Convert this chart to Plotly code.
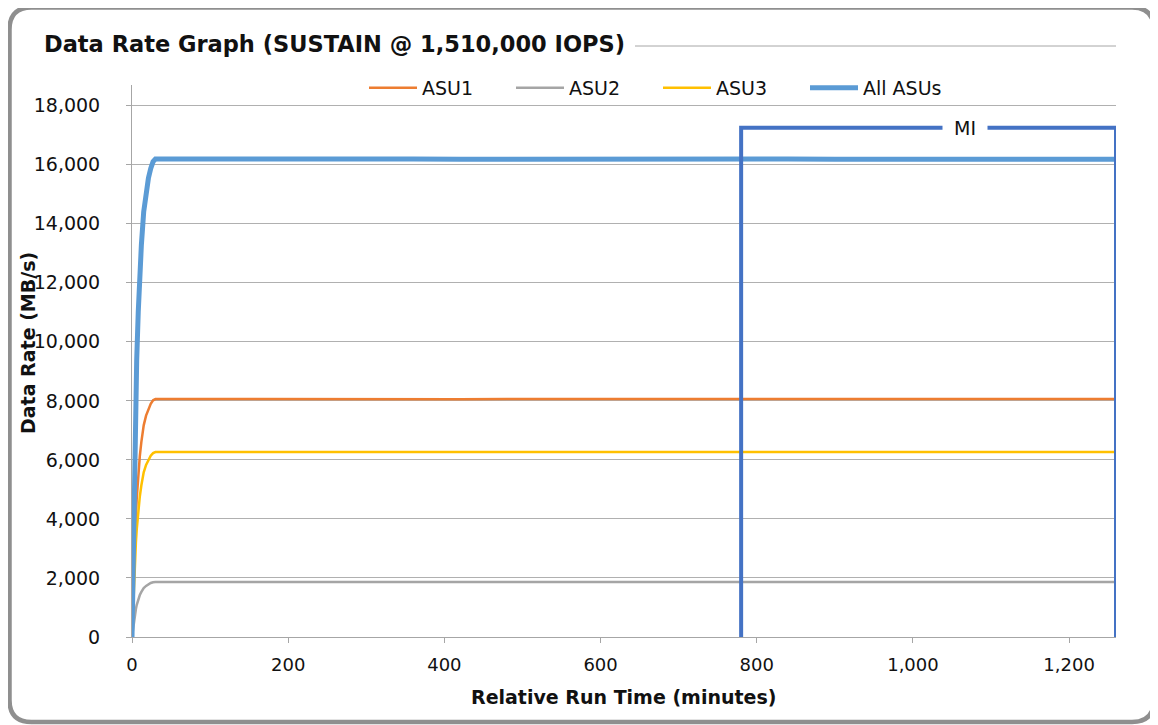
import plotly.graph_objects as go

# ---------------- data ----------------
minutes = [0, 1, 2, 3, 4, 5, 6, 8, 10, 12, 15, 18, 21, 24, 27, 30,
           60, 120, 180, 240, 300, 360, 420, 480, 540, 600, 660, 720,
           780, 840, 900, 960, 1020, 1080, 1140, 1200, 1260]

asu1 = [0, 970, 1930, 2740, 3470, 4110, 4670, 5480, 6130, 6610, 7170, 7500, 7740, 7900, 8020, 8060,
        8062, 8058, 8061, 8059, 8060, 8063, 8057, 8060, 8061, 8059, 8062, 8058, 8060, 8061, 8059,
        8060, 8062, 8058, 8061, 8060, 8059]
asu2 = [0, 220, 450, 630, 800, 950, 1080, 1270, 1420, 1530, 1660, 1730, 1790, 1830, 1855, 1865,
        1866, 1864, 1865, 1866, 1864, 1865, 1865, 1866, 1864, 1865, 1866, 1864, 1865, 1865, 1866,
        1864, 1865, 1866, 1864, 1865, 1865]
asu3 = [0, 750, 1500, 2130, 2690, 3200, 3630, 4260, 4760, 5140, 5580, 5830, 6010, 6140, 6230, 6265,
        6266, 6263, 6267, 6264, 6265, 6266, 6263, 6265, 6267, 6264, 6265, 6266, 6264, 6265, 6263,
        6266, 6265, 6264, 6266, 6265, 6264]
all_asus = [0, 1940, 3880, 5500, 6960, 8260, 9380, 11010, 12310, 13280, 14410, 15060, 15540, 15870, 16105, 16190,
            16194, 16185, 16193, 16189, 16189, 16194, 16185, 16191, 16192, 16188, 16193, 16188, 16189, 16191, 16188,
            16190, 16192, 16188, 16191, 16190, 16188]

mi_start = 780
mi_end = 1260
mi_level = 17250
mi_label = "MI"

x_ticks = [0, 200, 400, 600, 800, 1000, 1200]
y_ticks = [0, 2000, 4000, 6000, 8000, 10000, 12000, 14000, 16000, 18000]

title_text = "Data Rate Graph (SUSTAIN @ 1,510,000 IOPS)"
x_title = "Relative Run Time (minutes)"
y_title = "Data Rate (MB/s)"

# ---------------- layout geometry ----------------
# page pixel coordinates (the figure sits 8px in from the page corner)
OFF = 8
W, H = 1158 - OFF, 725 - OFF
PL, PR, PT, PB = 132, 1116, 85, 637   # plot area in page pixels
X_MAX, Y_MAX = 1260, 18700
MI_LABEL_X = 1066


def xp(px):
    return (px - PL) / (PR - PL)


def yp(py):
    return (PB - py) / (PB - PT)


FONT = "DejaVu Sans, Liberation Sans, Arial, sans-serif"
TXT = "#111111"
GRIDC = "#B0B0B0"
AXC = "#A6A6A6"

fig = go.Figure()

fig.add_trace(go.Scatter(x=minutes, y=asu1, name="ASU1", mode="lines",
                         line=dict(color="#ED7D31", width=2.5)))
fig.add_trace(go.Scatter(x=minutes, y=asu2, name="ASU2", mode="lines",
                         line=dict(color="#A5A5A5", width=2.5)))
fig.add_trace(go.Scatter(x=minutes, y=asu3, name="ASU3", mode="lines",
                         line=dict(color="#FFC000", width=2.5)))
fig.add_trace(go.Scatter(x=minutes, y=all_asus, name="All ASUs", mode="lines",
                         line=dict(color="#5B9BD5", width=5)))

# MI bracket
fig.add_trace(go.Scatter(x=[mi_start, mi_start, mi_end, mi_end],
                         y=[0, mi_level, mi_level, 0], mode="lines",
                         line=dict(color="#4472C4", width=4), showlegend=False,
                         hoverinfo="skip"))

fig.add_annotation(x=MI_LABEL_X, y=mi_level, xref="x", yref="y",
                   text=mi_label, showarrow=False, bgcolor="white",
                   font=dict(family=FONT, size=19, color=TXT),
                   borderpad=0, width=44)

# Title
fig.add_annotation(x=xp(42), y=yp(44), xref="paper", yref="paper", text="<b>" + title_text + "</b>",
                   showarrow=False, xanchor="left", yanchor="middle",
                   font=dict(family=FONT, size=22.5, color=TXT))

# axis titles
fig.add_annotation(x=xp(623), y=yp(697), xref="paper", yref="paper", text="<b>" + x_title + "</b>",
                   showarrow=False, xanchor="center", yanchor="middle",
                   font=dict(family=FONT, size=19, color=TXT))
fig.add_annotation(x=xp(28), y=yp(343), xref="paper", yref="paper", text="<b>" + y_title + "</b>",
                   showarrow=False, xanchor="center", yanchor="middle", textangle=-90,
                   font=dict(family=FONT, size=19, color=TXT))

# border and title rule
r = 22
bx0, bx1, by0, by1 = 9.5, 1154, 7.5, 722


def P(px, py):
    return f"{xp(px)},{yp(py)}"


path = (f"M {P(bx0 + r, by0)} L {P(bx1 - r, by0)} Q {P(bx1, by0)} {P(bx1, by0 + r)} "
        f"L {P(bx1, by1 - r)} Q {P(bx1, by1)} {P(bx1 - r, by1)} "
        f"L {P(bx0 + r, by1)} Q {P(bx0, by1)} {P(bx0, by1 - r)} "
        f"L {P(bx0, by0 + r)} Q {P(bx0, by0)} {P(bx0 + r, by0)} Z")
fig.add_shape(type="path", path=path, xref="paper", yref="paper",
              line=dict(color="#8F8F8F", width=4.5), layer="above")
fig.add_shape(type="line", xref="paper", yref="paper", x0=xp(635), x1=xp(1116), y0=yp(46), y1=yp(46),
              line=dict(color="#A6A6A6", width=1))

fig.update_layout(
    width=W, height=H,
    margin=dict(l=PL - OFF, r=(W + OFF) - PR, t=PT - OFF, b=(H + OFF) - PB, autoexpand=False),
    paper_bgcolor="white", plot_bgcolor="white",
    font=dict(family=FONT, size=19, color=TXT),
    showlegend=True,
    legend=dict(orientation="h", x=xp(364), y=yp(88), xanchor="left", yanchor="middle",
                bgcolor="rgba(0,0,0,0)", font=dict(family=FONT, size=19, color=TXT),
                entrywidth=84, entrywidthmode="pixels", itemwidth=48,
                traceorder="normal"),
    xaxis=dict(range=[0, X_MAX], tickvals=x_ticks, tickformat=",d",
               showgrid=False, zeroline=False,
               showline=True, linecolor=AXC, linewidth=1,
               ticks="outside", ticklen=5, tickcolor=AXC, ticklabelstandoff=6,
               tickfont=dict(family=FONT, size=18, color=TXT)),
    yaxis=dict(range=[0, Y_MAX], tickvals=y_ticks, tickformat=",d",
               showgrid=True, gridcolor=GRIDC, gridwidth=1, zeroline=False,
               showline=True, linecolor=AXC, linewidth=1,
               ticks="outside", ticklen=5, tickcolor=AXC, ticklabelstandoff=22,
               tickfont=dict(family=FONT, size=19, color=TXT)),
)

fig.write_html("out.html")
